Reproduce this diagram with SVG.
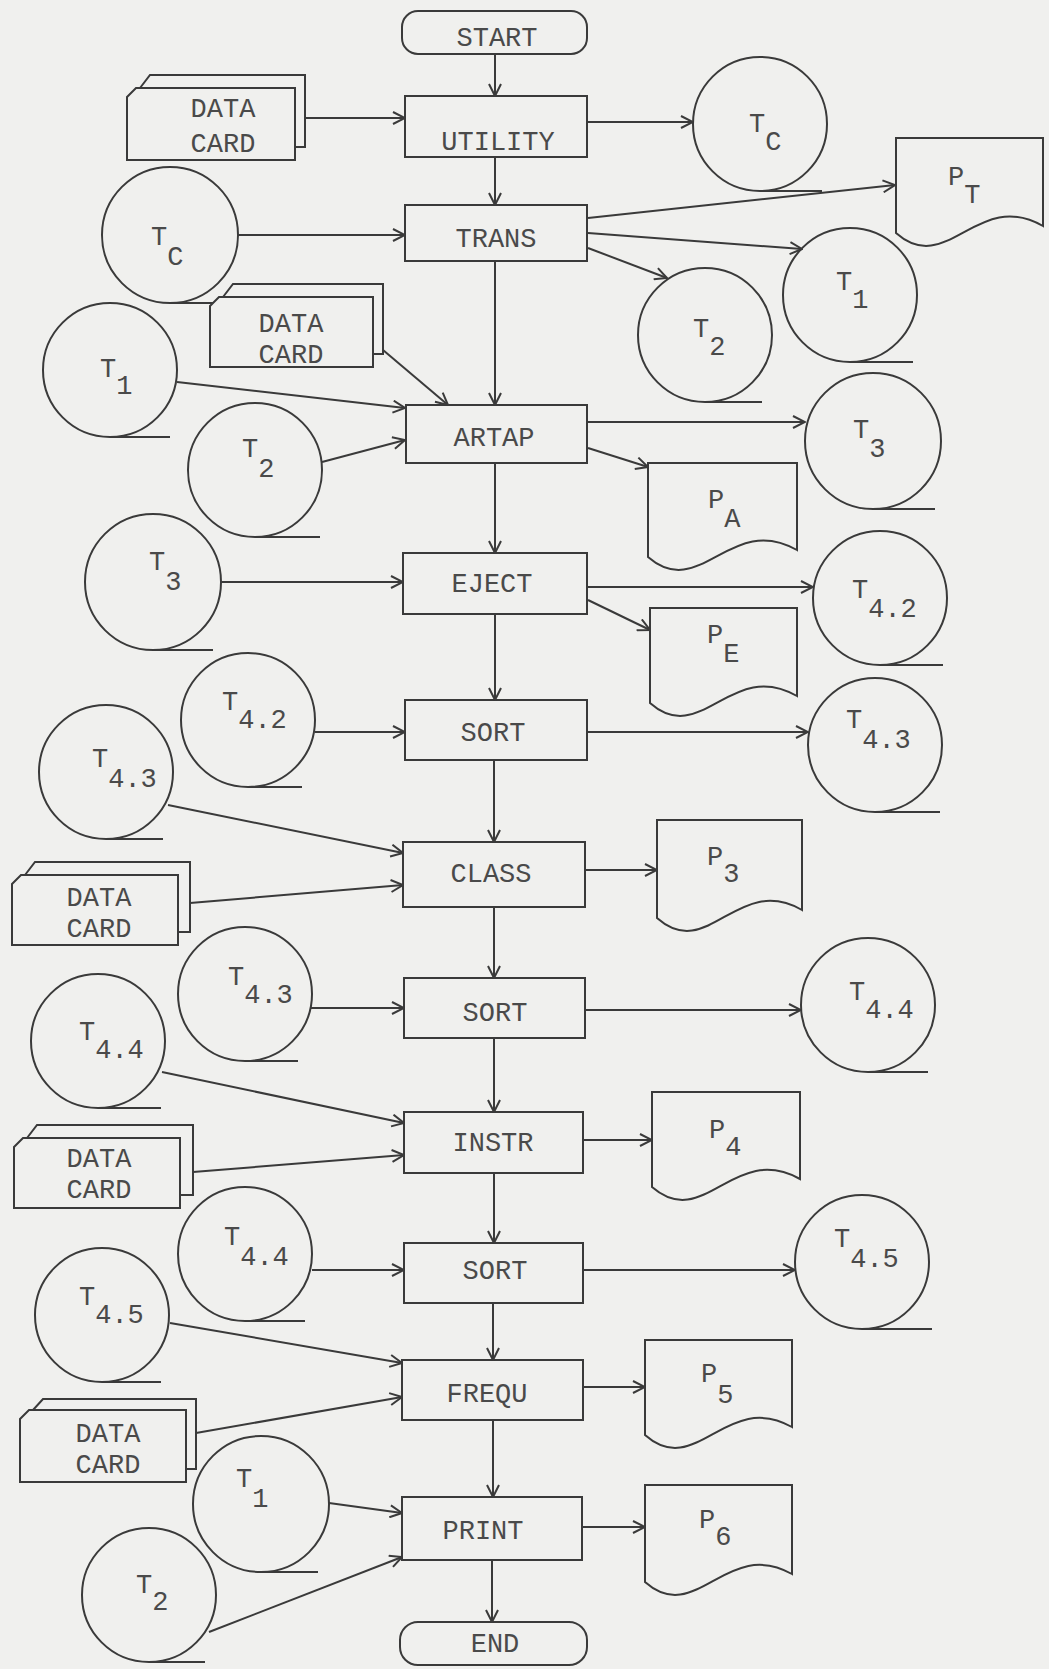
<svg xmlns="http://www.w3.org/2000/svg" width="1049" height="1669" viewBox="0 0 1049 1669">
<defs>
<style>
.s{fill:none;stroke:#3a3a3a;stroke-width:2}
.c{fill:none;stroke:#3a3a3a;stroke-width:2}
.l{font-family:"Liberation Mono","DejaVu Sans Mono",monospace;font-size:27px;fill:#4a4a4a;text-anchor:middle}
.t{font-family:"Liberation Mono","DejaVu Sans Mono",monospace;font-size:27px;fill:#4a4a4a}
.e{fill:none;stroke:#3a3a3a;stroke-width:2;marker-end:url(#ah)}
</style>
<marker id="ah" viewBox="0 0 14 14" refX="13" refY="7" markerWidth="14" markerHeight="14" markerUnits="userSpaceOnUse" orient="auto">
<path d="M1,1 L13,7 L1,13" fill="none" stroke="#3a3a3a" stroke-width="2"/>
</marker>
</defs>
<rect width="1049" height="1669" fill="#f0f0ee"/>

<!-- main column -->
<g id="start"><rect class="s" x="402" y="11" width="185" height="43" rx="16"/><text class="l" x="497" y="46">START</text></g>
<g id="utility"><rect class="s" x="405" y="96" width="182" height="61"/><text class="l" x="498" y="150">UTILITY</text></g>
<g id="trans"><rect class="s" x="405" y="205" width="182" height="56"/><text class="l" x="496" y="247">TRANS</text></g>
<g id="artap"><rect class="s" x="406" y="405" width="181" height="58"/><text class="l" x="494" y="446">ARTAP</text></g>
<g id="eject"><rect class="s" x="403" y="553" width="184" height="61"/><text class="l" x="492" y="592">EJECT</text></g>
<g id="sort1"><rect class="s" x="405" y="700" width="182" height="60"/><text class="l" x="493" y="741">SORT</text></g>
<g id="class"><rect class="s" x="403" y="842" width="182" height="65"/><text class="l" x="491" y="882">CLASS</text></g>
<g id="sort2"><rect class="s" x="404" y="978" width="181" height="60"/><text class="l" x="495" y="1021">SORT</text></g>
<g id="instr"><rect class="s" x="404" y="1112" width="179" height="61"/><text class="l" x="493" y="1151">INSTR</text></g>
<g id="sort3"><rect class="s" x="404" y="1243" width="179" height="60"/><text class="l" x="495" y="1279">SORT</text></g>
<g id="frequ"><rect class="s" x="402" y="1360" width="181" height="60"/><text class="l" x="487" y="1402">FREQU</text></g>
<g id="print"><rect class="s" x="402" y="1497" width="180" height="63"/><text class="l" x="483" y="1539">PRINT</text></g>
<g id="end"><rect class="s" x="400" y="1622" width="187" height="43" rx="18"/><text class="l" x="495" y="1652">END</text></g>

<!-- data cards -->
<g id="card-a"><path class="s" d="M127,97 L136,88 H295 V160 H127 Z"/><path class="s" d="M140,88 L150,75 H305 V147 H295"/><text class="l" x="223" y="117">DATA</text><text class="l" x="223" y="152">CARD</text></g>
<g id="card-b"><path class="s" d="M210,306 L219,297 H373 V367 H210 Z"/><path class="s" d="M223,297 L233,284 H383 V354 H373"/><text class="l" x="291" y="332">DATA</text><text class="l" x="291" y="363">CARD</text></g>
<g id="card-c"><path class="s" d="M12,884 L21,875 H178 V945 H12 Z"/><path class="s" d="M25,875 L35,862 H190 V932 H178"/><text class="l" x="99" y="906">DATA</text><text class="l" x="99" y="937">CARD</text></g>
<g id="card-d"><path class="s" d="M14,1147 L23,1138 H180 V1208 H14 Z"/><path class="s" d="M27,1138 L37,1125 H193 V1195 H180"/><text class="l" x="99" y="1167">DATA</text><text class="l" x="99" y="1198">CARD</text></g>
<g id="card-e"><path class="s" d="M20,1419 L29,1410 H186 V1482 H20 Z"/><path class="s" d="M33,1410 L43,1399 H196 V1469 H186"/><text class="l" x="108" y="1442">DATA</text><text class="l" x="108" y="1473">CARD</text></g>

<!-- tapes -->
<g id="tc-r"><circle class="c" cx="760" cy="124" r="67"/><line class="c" x1="760" y1="191" x2="822" y2="191"/><text class="t" x="749" y="132">T<tspan dy="18">C</tspan></text></g>
<g id="tc-l"><circle class="c" cx="170" cy="235" r="68"/><line class="c" x1="170" y1="303" x2="213" y2="303"/><text class="t" x="151" y="245">T<tspan dy="20">C</tspan></text></g>
<g id="t1-r"><circle class="c" cx="850" cy="295" r="67"/><line class="c" x1="850" y1="362" x2="913" y2="362"/><text class="t" x="836" y="290">T<tspan dy="18">1</tspan></text></g>
<g id="t2-r"><circle class="c" cx="705" cy="335" r="67"/><line class="c" x1="705" y1="402" x2="762" y2="402"/><text class="t" x="693" y="337">T<tspan dy="18">2</tspan></text></g>
<g id="t1-l"><circle class="c" cx="110" cy="370" r="67"/><line class="c" x1="110" y1="437" x2="170" y2="437"/><text class="t" x="100" y="377">T<tspan dy="17">1</tspan></text></g>
<g id="t2-l"><circle class="c" cx="255" cy="470" r="67"/><line class="c" x1="255" y1="537" x2="320" y2="537"/><text class="t" x="242" y="457">T<tspan dy="20">2</tspan></text></g>
<g id="t3-r"><circle class="c" cx="873" cy="441" r="68"/><line class="c" x1="873" y1="509" x2="935" y2="509"/><text class="t" x="853" y="438">T<tspan dy="19">3</tspan></text></g>
<g id="t3-l"><circle class="c" cx="153" cy="582" r="68"/><line class="c" x1="153" y1="650" x2="213" y2="650"/><text class="t" x="149" y="570">T<tspan dy="20">3</tspan></text></g>
<g id="t42-r"><circle class="c" cx="880" cy="598" r="67"/><line class="c" x1="880" y1="665" x2="943" y2="665"/><text class="t" x="852" y="598">T<tspan dy="19">4.2</tspan></text></g>
<g id="t42-l"><circle class="c" cx="248" cy="720" r="67"/><line class="c" x1="248" y1="787" x2="302" y2="787"/><text class="t" x="222" y="710">T<tspan dy="18">4.2</tspan></text></g>
<g id="t43-r"><circle class="c" cx="875" cy="745" r="67"/><line class="c" x1="875" y1="812" x2="940" y2="812"/><text class="t" x="846" y="728">T<tspan dy="20">4.3</tspan></text></g>
<g id="t43-l"><circle class="c" cx="106" cy="772" r="67"/><line class="c" x1="106" y1="839" x2="163" y2="839"/><text class="t" x="92" y="767">T<tspan dy="20">4.3</tspan></text></g>
<g id="t43-l2"><circle class="c" cx="245" cy="994" r="67"/><line class="c" x1="245" y1="1061" x2="298" y2="1061"/><text class="t" x="228" y="985">T<tspan dy="18">4.3</tspan></text></g>
<g id="t44-r"><circle class="c" cx="868" cy="1005" r="67"/><line class="c" x1="868" y1="1072" x2="928" y2="1072"/><text class="t" x="849" y="1000">T<tspan dy="18">4.4</tspan></text></g>
<g id="t44-l1"><circle class="c" cx="98" cy="1041" r="67"/><line class="c" x1="98" y1="1108" x2="161" y2="1108"/><text class="t" x="79" y="1040">T<tspan dy="18">4.4</tspan></text></g>
<g id="t44-l2"><circle class="c" cx="245" cy="1254" r="67"/><line class="c" x1="245" y1="1321" x2="305" y2="1321"/><text class="t" x="224" y="1245">T<tspan dy="20">4.4</tspan></text></g>
<g id="t45-r"><circle class="c" cx="862" cy="1262" r="67"/><line class="c" x1="862" y1="1329" x2="932" y2="1329"/><text class="t" x="834" y="1247">T<tspan dy="20">4.5</tspan></text></g>
<g id="t45-l"><circle class="c" cx="102" cy="1315" r="67"/><line class="c" x1="102" y1="1382" x2="161" y2="1382"/><text class="t" x="79" y="1305">T<tspan dy="18">4.5</tspan></text></g>
<g id="t1-b"><circle class="c" cx="261" cy="1504" r="68"/><line class="c" x1="261" y1="1572" x2="318" y2="1572"/><text class="t" x="236" y="1487">T<tspan dy="20">1</tspan></text></g>
<g id="t2-b"><circle class="c" cx="149" cy="1595" r="67"/><line class="c" x1="149" y1="1662" x2="205" y2="1662"/><text class="t" x="136" y="1593">T<tspan dy="17">2</tspan></text></g>

<!-- documents -->
<g id="pt"><path class="s" d="M896,138 H1043 V226 C977,188 947,278 896,233 Z"/><text class="t" x="948" y="185">P<tspan dy="18">T</tspan></text></g>
<g id="pa"><path class="s" d="M648,463 H797 V550 C730,512 700,602 648,557 Z"/><text class="t" x="708" y="508">P<tspan dy="19">A</tspan></text></g>
<g id="pe"><path class="s" d="M650,608 H797 V696 C731,658 701,748 650,703 Z"/><text class="t" x="707" y="643">P<tspan dy="19">E</tspan></text></g>
<g id="p3"><path class="s" d="M657,820 H802 V910 C737,873 708,963 657,918 Z"/><text class="t" x="707" y="865">P<tspan dy="17">3</tspan></text></g>
<g id="p4"><path class="s" d="M652,1092 H800 V1179 C733,1142 704,1232 652,1187 Z"/><text class="t" x="709" y="1138">P<tspan dy="17">4</tspan></text></g>
<g id="p5"><path class="s" d="M645,1340 H792 V1427 C726,1390 696,1480 645,1435 Z"/><text class="t" x="701" y="1382">P<tspan dy="21">5</tspan></text></g>
<g id="p6"><path class="s" d="M645,1485 H792 V1574 C726,1537 696,1627 645,1582 Z"/><text class="t" x="699" y="1528">P<tspan dy="17">6</tspan></text></g>

<!-- connectors -->
<g id="connectors">
<line class="e" x1="495" y1="54" x2="495" y2="96"/>
<line class="e" x1="306" y1="118" x2="405" y2="118"/>
<line class="e" x1="587" y1="122" x2="693" y2="122"/>
<line class="e" x1="495" y1="157" x2="495" y2="205"/>
<line class="e" x1="238" y1="235" x2="405" y2="235"/>
<line class="e" x1="588" y1="218" x2="895" y2="185"/>
<line class="e" x1="588" y1="233" x2="802" y2="249"/>
<line class="e" x1="588" y1="248" x2="667" y2="278"/>
<line class="e" x1="495" y1="261" x2="495" y2="405"/>
<line class="e" x1="383" y1="350" x2="448" y2="405"/>
<line class="e" x1="177" y1="382" x2="405" y2="408"/>
<line class="e" x1="322" y1="462" x2="405" y2="440"/>
<line class="e" x1="587" y1="422" x2="805" y2="422"/>
<line class="e" x1="588" y1="448" x2="648" y2="467"/>
<line class="e" x1="495" y1="463" x2="495" y2="553"/>
<line class="e" x1="221" y1="582" x2="403" y2="582"/>
<line class="e" x1="587" y1="587" x2="813" y2="587"/>
<line class="e" x1="588" y1="600" x2="650" y2="630"/>
<line class="e" x1="495" y1="614" x2="495" y2="700"/>
<line class="e" x1="315" y1="732" x2="405" y2="732"/>
<line class="e" x1="587" y1="732" x2="808" y2="732"/>
<line class="e" x1="494" y1="760" x2="494" y2="842"/>
<line class="e" x1="168" y1="805" x2="403" y2="853"/>
<line class="e" x1="190" y1="903" x2="403" y2="885"/>
<line class="e" x1="585" y1="870" x2="657" y2="870"/>
<line class="e" x1="494" y1="907" x2="494" y2="978"/>
<line class="e" x1="310" y1="1008" x2="404" y2="1008"/>
<line class="e" x1="585" y1="1010" x2="801" y2="1010"/>
<line class="e" x1="494" y1="1038" x2="494" y2="1112"/>
<line class="e" x1="162" y1="1072" x2="404" y2="1123"/>
<line class="e" x1="193" y1="1172" x2="404" y2="1155"/>
<line class="e" x1="583" y1="1140" x2="652" y2="1140"/>
<line class="e" x1="494" y1="1173" x2="494" y2="1243"/>
<line class="e" x1="312" y1="1270" x2="404" y2="1270"/>
<line class="e" x1="583" y1="1270" x2="795" y2="1270"/>
<line class="e" x1="493" y1="1303" x2="493" y2="1360"/>
<line class="e" x1="170" y1="1323" x2="402" y2="1363"/>
<line class="e" x1="196" y1="1433" x2="402" y2="1397"/>
<line class="e" x1="583" y1="1387" x2="645" y2="1387"/>
<line class="e" x1="493" y1="1420" x2="493" y2="1497"/>
<line class="e" x1="329" y1="1503" x2="402" y2="1513"/>
<line class="e" x1="209" y1="1632" x2="402" y2="1557"/>
<line class="e" x1="582" y1="1527" x2="645" y2="1527"/>
<line class="e" x1="492" y1="1560" x2="492" y2="1622"/>
</g>
</svg>
